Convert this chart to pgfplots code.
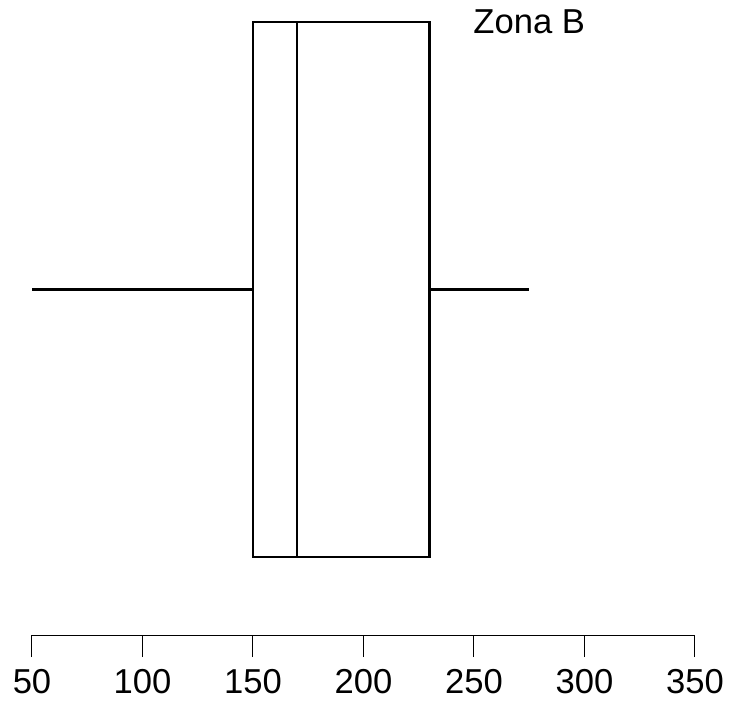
\documentclass[border=0pt]{standalone}
\usepackage{fontspec}
\setmainfont{Liberation Sans}
\usepackage{pgfplots}
\pgfplotsset{compat=1.18}
\usepgfplotslibrary{statistics}
\begin{document}
\begin{tikzpicture}
\begin{axis}[
  scale only axis,
  width=331.5pt, height=306.5pt,
  xmin=50, xmax=350,
  ymin=0.4831, ymax=1.4,
  axis x line*=bottom,
  axis y line=none,
  xtick={50,100,150,200,250,300,350},
  xtick align=outside,
  major tick length=11pt,
  tick style={line width=0.5pt, black},
  x axis line style={line width=0.5pt, -},
  /pgf/number format/assume math mode=true,
  xticklabel style={font=\fontsize{17.3}{20}\selectfont, yshift=-2.5pt},
  clip=false,
]
\addplot+[black, line width=1.3pt, mark=none, solid,
  boxplot prepared={lower whisker=50, lower quartile=150, median=170,
    upper quartile=230, upper whisker=275, box extend=0.8,
    draw position=1, whisker extend=0}] coordinates {};
\node[font=\fontsize{17.3}{20}\selectfont] at (axis cs:275,1.4) {Zona B};
\path (axis cs:35.52,0.3887) rectangle (axis cs:367.2,1.433);
\end{axis}
\end{tikzpicture}
\end{document}
